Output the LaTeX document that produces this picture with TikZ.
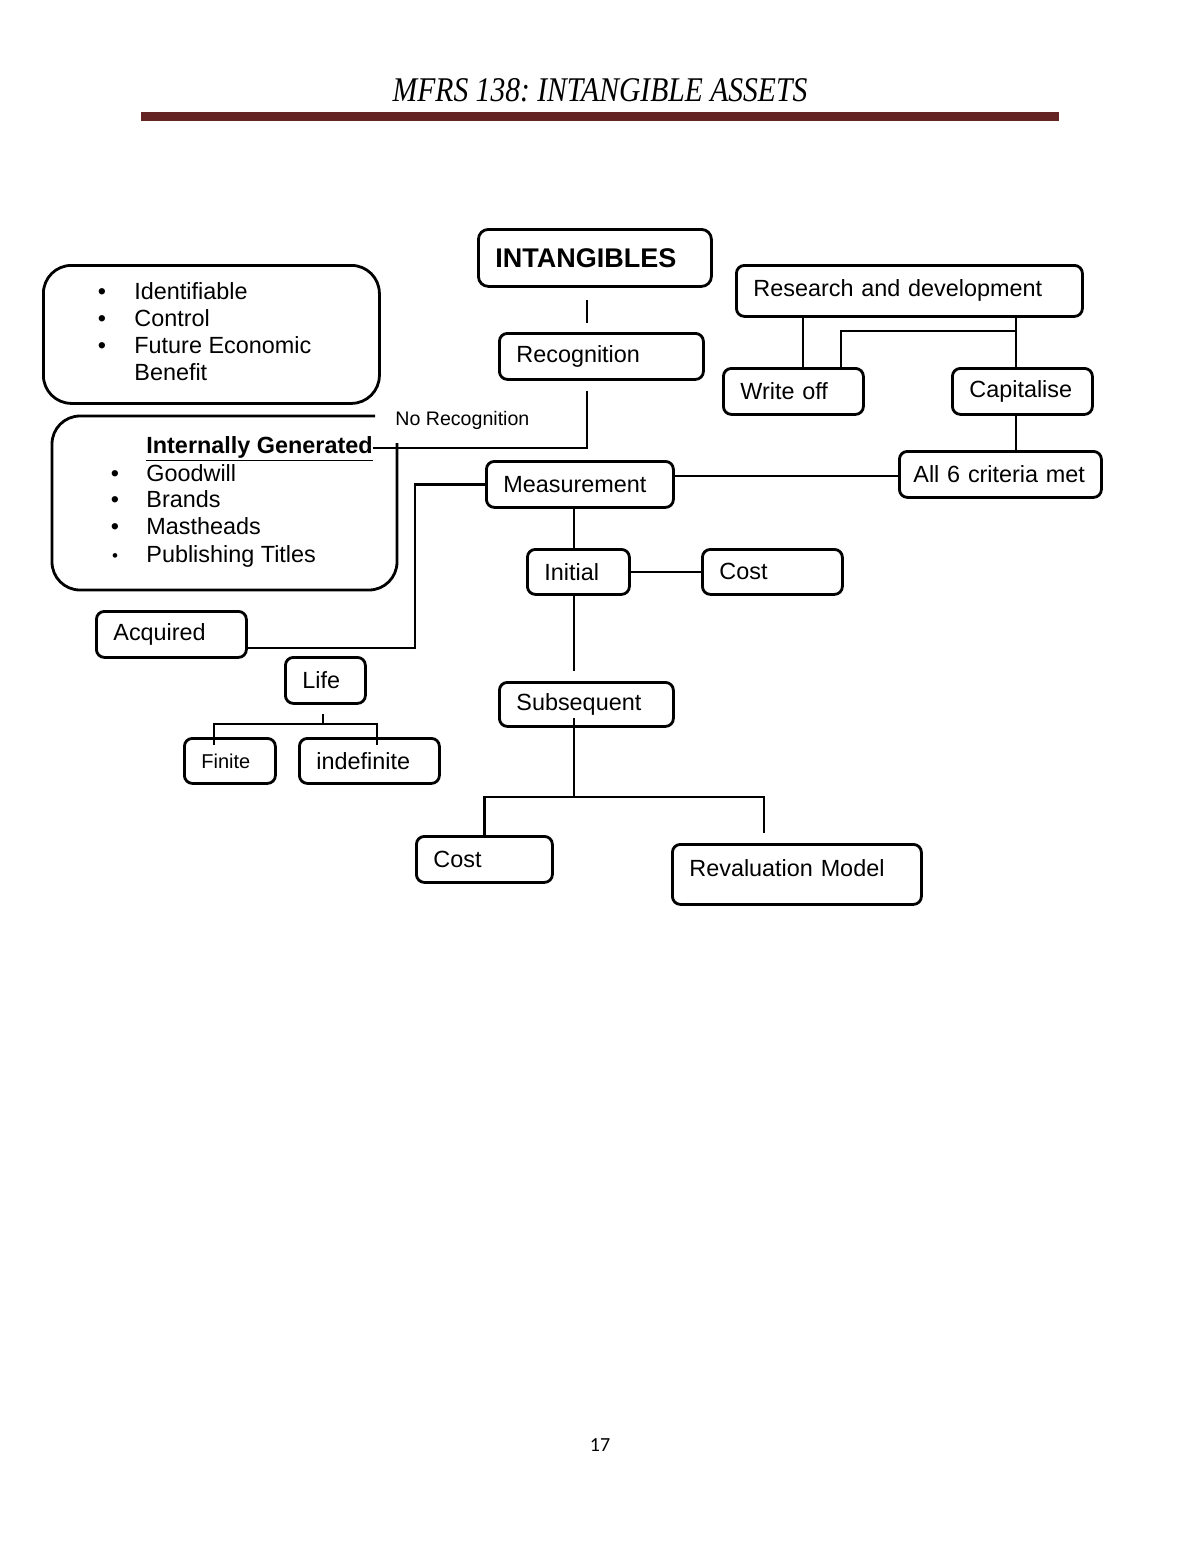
\documentclass[tikz,border=0pt]{standalone}
\usepackage{graphicx}
\usepackage{fontspec}
\setmainfont{Liberation Sans}
\newfontfamily\titlefont{Liberation Serif}
\newfontfamily\pagefont{Carlito}
\usetikzlibrary{calc}
\definecolor{barred}{HTML}{632423}
\frenchspacing
\tikzset{
  box/.style={draw, line width=1.4pt, rounded corners=4pt, anchor=north west,
    inner xsep=8.5pt, inner ysep=0pt, align=left, font=\fontsize{11.7}{13}\selectfont},
  conn/.style={line width=1.25pt},
  txt/.style={inner sep=0pt, anchor=base west, font=\fontsize{11.7}{13}\selectfont},
  bul/.style={inner sep=0pt, anchor=base, font=\fontsize{11.7}{13}\selectfont},
  bigline/.style={line width=1.4pt},
}
\begin{document}
\begin{tikzpicture}[x=0.5pt, y=-0.5pt]
\fill[white] (0,0) rectangle (1200,1553);
\useasboundingbox (0,0) rectangle (1200,1553);

% header
\node[inner sep=0pt, anchor=base, font=\titlefont\itshape\fontsize{14.8}{16}\selectfont] (title) at (600,101) {\scalebox{1}[1.17]{MFRS 138: INTANGIBLE ASSETS}};
\fill[barred] (141,112) rectangle (1059,121);

% boxes
\node[box, rounded corners=5pt, text width=99.5pt, minimum height=28.5pt, font=\bfseries\fontsize{13.5}{15}\selectfont] (intang) at (477,228) {INTANGIBLES};
\node[box, text width=85pt, minimum height=23pt] (rec) at (498,332) {Recognition};
\node[box, text width=156pt, minimum height=25.5pt] (rd) at (735,264) {Research and development};
\node[box, text width=53pt, minimum height=23pt] (wo) at (722,367) {Write off};
\node[box, text width=53pt, minimum height=23pt] (cap) at (951,367) {Capitalise};
\node[box, inner xsep=7pt, text width=87pt, minimum height=23pt] (all6) at (898,450) {\mbox{All 6 criteria met}};
\node[box, text width=76.5pt, minimum height=23pt] (meas) at (485,460) {Measurement};
\node[box, text width=34pt, minimum height=22.5pt] (init) at (526,548) {Initial};
\node[box, text width=53pt, minimum height=22.5pt] (cost1) at (701,548) {Cost};
\node[box, text width=70pt, minimum height=22pt] (sub) at (498,681) {Subsequent};
\node[box, text width=51pt, minimum height=23pt] (cost2) at (415,835) {Cost};
\node[box, text width=107.5pt, minimum height=30pt] (reval) at (671,843) {\raisebox{3pt}[\dimexpr\height+3pt\relax][\dimexpr\depth+3pt\relax]{Revaluation Model}};
\node[box, text width=58pt, minimum height=23pt] (acq) at (95,610) {Acquired};
\node[box, text width=23pt, minimum height=23pt] (life) at (284,656) {Life};
\node[box, text width=28.5pt, minimum height=22.5pt, font=\fontsize{10}{12}\selectfont] (fin) at (183,737) {Finite};
\node[box, text width=53pt, minimum height=22.5pt] (indef) at (298,737) {indefinite};

% criteria box
\node[draw, line width=1.4pt, rounded corners=14pt, anchor=north west, minimum width=168pt, minimum height=69pt, inner sep=0pt] (crit) at (42,264) {};
\node[bul] (cb1) at (102,299) {\textbullet};
\node[bul] (cb2) at (102,326) {\textbullet};
\node[bul] (cb3) at (102,353) {\textbullet};
\node[txt] (ct1) at (134,299) {Identifiable};
\node[txt] (ct2) at (134,326) {Control};
\node[txt] (ct3) at (134,353) {Future Economic};
\node[txt] (ct4) at (134,380) {Benefit};

% internally generated box (open shape)
\draw[bigline, rounded corners=14pt] (375,416) -- (52,416) -- (52,590) -- (397,590) -- (397,443);
\node[txt, font=\bfseries\fontsize{11.7}{13}\selectfont] (igt) at (146,453) {\underline{Internally Generated}};
\node[bul] (gb1) at (115,481) {\textbullet};
\node[bul] (gb2) at (115,507) {\textbullet};
\node[bul] (gb3) at (115,534) {\textbullet};
\node[bul, font=\fontsize{8.5}{10}\selectfont] (gb4) at (115,561) {\textbullet};
\node[txt] (gt1) at (146,481) {Goodwill};
\node[txt] (gt2) at (146,507) {Brands};
\node[txt] (gt3) at (146,534) {Mastheads};
\node[txt] (gt4) at (146,562) {Publishing Titles};
\node[txt, font=\fontsize{9.8}{11}\selectfont] (norec) at (395,425) {No Recognition};

% helper coordinates
\coordinate (spine) at (587,0);
\coordinate (nrl) at (0,448);
\coordinate (acqj) at (415,648);
\coordinate (mline) at (0,476);
\coordinate (wocol) at (803,0);
\coordinate (capcol) at (1016,0);
\coordinate (wo2) at (841,331);
\coordinate (mcol) at (574,0);
\coordinate (sj) at (574,797);
\coordinate (rcol) at (764,0);
\coordinate (lifej) at (323,724);
\coordinate (fcol) at (214,0);
\coordinate (icol) at (377,0);

% connectors
\draw[conn] ($(intang.south -| spine)+(0,12)$) -- ($(rec.north -| spine)+(0,-9)$);
\draw[conn] ($(rec.south -| spine)+(0,10)$) |- (igt.east |- nrl);
\draw[conn] (meas.west) -| (acqj) -- (acqj -| acq.east);
\draw[conn] (meas.east |- mline) -- (all6.west |- mline);
\draw[conn] (rd.south -| wocol) -- (wo.north -| wocol);
\draw[conn] (rd.south -| capcol) -- (cap.north -| capcol);
\draw[conn] (wo.north -| wo2) -- (wo2) -- (wo2 -| capcol);
\draw[conn] (cap.south -| capcol) -- (all6.north -| capcol);
\draw[conn] (meas.south -| mcol) -- (init.north -| mcol);
\draw[conn] (init.east) -- (cost1.west);
\draw[conn] (init.south -| mcol) -- ($(sub.north -| mcol)+(0,-10)$);
\draw[conn] ($(sub.south -| mcol)+(0,-10)$) -- (sj);
\draw[conn] (cost2.north) |- (sj) -| ($(reval.north -| rcol)+(0,-10)$);
\draw[conn] ($(life.south -| lifej)+(0,9)$) -- (lifej);
\draw[conn] ($(fin.north -| fcol)+(0,8)$) |- (lifej) -| ($(indef.north -| icol)+(0,8)$);

% page number
\node[inner sep=0pt, anchor=base, font=\pagefont\fontsize{10}{12}\selectfont] (pgno) at (600,1451) {17};
\end{tikzpicture}
\end{document}
